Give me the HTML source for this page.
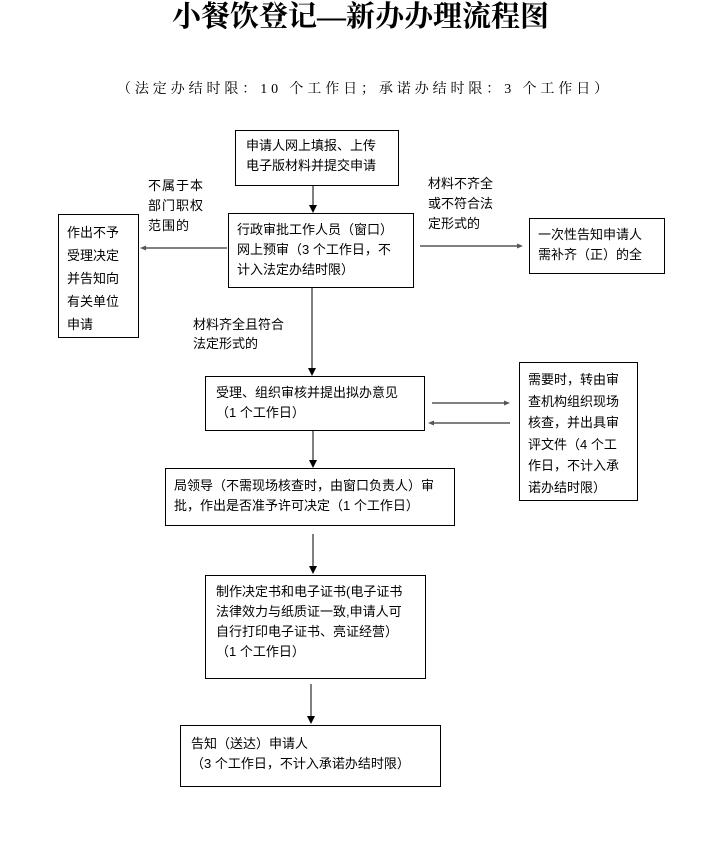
<!DOCTYPE html>
<html><head><meta charset="utf-8"><style>
body{margin:0;width:713px;height:851px;background:#fff;position:relative;overflow:hidden;font-family:"Liberation Sans","Noto Sans CJK SC",sans-serif;color:#000}
.t{position:absolute;white-space:nowrap}
.b{position:absolute;border:1px solid #000;box-sizing:border-box;font-size:13px;line-height:20px;padding:4px 8px;white-space:nowrap}
.l{position:absolute;font-size:13px;line-height:19px;white-space:nowrap}
svg{position:absolute;left:0;top:0}
</style></head><body>
<div class="t" style="left:172px;top:1px;width:390px;font-family:'Liberation Serif','Noto Serif CJK SC',serif;font-weight:bold;font-size:29px;line-height:32px;">小餐饮登记—新办办理流程图</div>
<div class="t" style="left:117px;top:78px;font-family:'Liberation Serif','Noto Serif CJK SC',serif;font-size:14px;letter-spacing:3.9px;">（法定办结时限：10 个工作日；承诺办结时限：3 个工作日）</div>

<div class="b" style="left:235px;top:130px;width:164px;height:56px;padding:5px 10px;">申请人网上填报、上传<br>电子版材料并提交申请</div>
<div class="b" style="left:228px;top:213px;width:186px;height:75px;padding:6px 8px;">行政审批工作人员（窗口）<br>网上预审（3 个工作日，不<br>计入法定办结时限）</div>
<div class="b" style="left:58px;top:214px;width:81px;height:124px;padding:6px 8px;line-height:23px;">作出不予<br>受理决定<br>并告知向<br>有关单位<br>申请</div>
<div class="b" style="left:529px;top:218px;width:136px;height:56px;padding:6px 8px;">一次性告知申请人<br>需补齐（正）的全</div>
<div class="l" style="left:148px;top:176px;line-height:20px;letter-spacing:1px;">不属于本<br>部门职权<br>范围的</div>
<div class="l" style="left:428px;top:174px;line-height:20px;">材料不齐全<br>或不符合法<br>定形式的</div>
<div class="l" style="left:193px;top:315px;">材料齐全且符合<br>法定形式的</div>
<div class="b" style="left:205px;top:376px;width:220px;height:55px;padding:6px 10px;">受理、组织审核并提出拟办意见<br>（1 个工作日）</div>
<div class="b" style="left:519px;top:362px;width:119px;height:139px;padding:6px 8px;line-height:21.5px;">需要时，转由审<br>查机构组织现场<br>核查，并出具审<br>评文件（4 个工<br>作日，不计入承<br>诺办结时限）</div>
<div class="b" style="left:165px;top:468px;width:290px;height:58px;padding:7px 8px;">局领导（不需现场核查时，由窗口负责人）审<br>批，作出是否准予许可决定（1 个工作日）</div>
<div class="b" style="left:205px;top:575px;width:221px;height:104px;padding:6px 10px;">制作决定书和电子证书(电子证书<br>法律效力与纸质证一致,申请人可<br>自行打印电子证书、亮证经营）<br>（1 个工作日）</div>
<div class="b" style="left:180px;top:725px;width:261px;height:62px;padding:8px 10px;">告知（送达）申请人<br>（3 个工作日，不计入承诺办结时限）</div>

<svg width="713" height="851">
<defs><marker id="a" markerWidth="8" markerHeight="8" refX="7" refY="4" orient="auto" markerUnits="userSpaceOnUse"><path d="M0,0L8,4L0,8z" fill="#000"/></marker>
<marker id="s" markerWidth="6" markerHeight="6" refX="5" refY="3" orient="auto" markerUnits="userSpaceOnUse"><path d="M0,0.5L6,3L0,5.5z" fill="#555"/></marker></defs>
<g stroke="#000" stroke-width="1">
<line x1="313" y1="186" x2="313" y2="212" marker-end="url(#a)"/>
<line x1="227" y1="248" x2="141" y2="248" marker-end="url(#s)"/>
<line x1="420" y1="246" x2="522" y2="246" marker-end="url(#s)"/>
<line x1="312" y1="288" x2="312" y2="375" marker-end="url(#a)"/>
<line x1="432" y1="403" x2="509" y2="403" marker-end="url(#s)"/>
<line x1="510" y1="423" x2="429" y2="423" marker-end="url(#s)"/>
<line x1="313" y1="431" x2="313" y2="467" marker-end="url(#a)"/>
<line x1="313" y1="534" x2="313" y2="573" marker-end="url(#a)"/>
<line x1="311" y1="684" x2="311" y2="723" marker-end="url(#a)"/>
</g></svg>
</body></html>
